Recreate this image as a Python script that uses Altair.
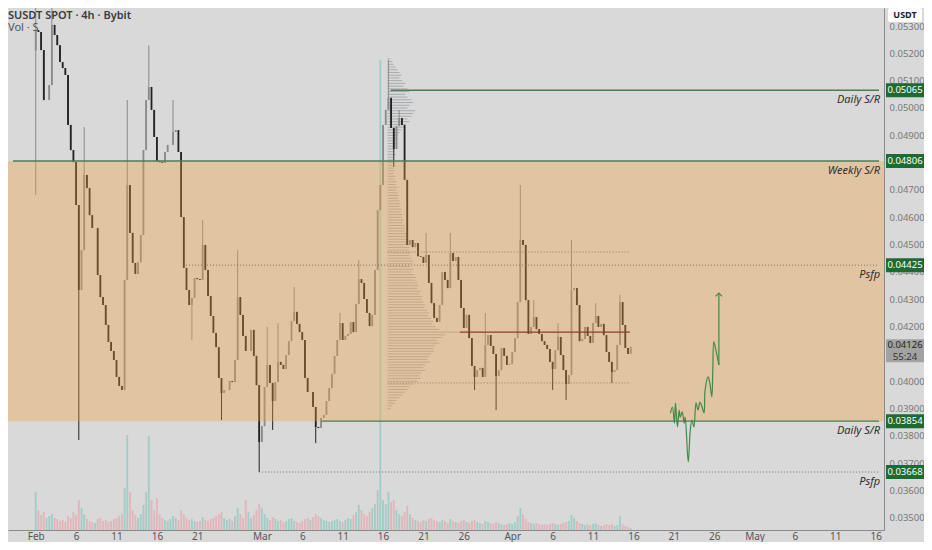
import altair as alt
import pandas as pd

# ---------------- data ----------------
CANDLE_START = "2025-02-01 00:00"
CANDLE_FREQ = "8h"
FIRST_OPEN = 0.05210
CLOSE = [
    0.05285, 0.05278, 0.05212, 0.05029, 0.05029, 0.05084, 0.05304, 0.05267, 0.05230, 0.05168,
    0.05146, 0.05121, 0.04938, 0.04846, 0.04802, 0.04645, 0.04334, 0.04480, 0.04755, 0.04707,
    0.04608, 0.04561, 0.04561, 0.04389, 0.04308, 0.04279, 0.04206, 0.04144, 0.04111, 0.04078,
    0.04016, 0.03983, 0.03968, 0.04371, 0.04718, 0.04543, 0.04433, 0.04393, 0.04436, 0.04535,
    0.04846, 0.05029, 0.05077, 0.04993, 0.04894, 0.04806, 0.04802, 0.04799, 0.04839, 0.04865,
    0.04865, 0.04912, 0.04919, 0.04839, 0.04601, 0.04415, 0.04334, 0.04279, 0.04305, 0.04378,
    0.04374, 0.04371, 0.04499, 0.04407, 0.04312, 0.04239, 0.04177, 0.04125, 0.04012, 0.03957,
    0.03968, 0.03968, 0.04001, 0.03997, 0.04078, 0.04308, 0.04243, 0.04166, 0.04111, 0.04111,
    0.04188, 0.04093, 0.03986, 0.03778, 0.03836, 0.03979, 0.04060, 0.03994, 0.03928, 0.03997,
    0.04071, 0.04060, 0.04045, 0.04096, 0.04147, 0.04221, 0.04254, 0.04210, 0.04180, 0.04151,
    0.04012, 0.03961, 0.03961, 0.03906, 0.03833, 0.03829, 0.03866, 0.03877, 0.03928, 0.03975,
    0.04027, 0.04093, 0.04151, 0.04213, 0.04151, 0.04166, 0.04173, 0.04217, 0.04180, 0.04283,
    0.04374, 0.04360, 0.04301, 0.04250, 0.04202, 0.04243, 0.04407, 0.04627, 0.04718, 0.04938,
    0.04993, 0.05037, 0.04927, 0.04850, 0.04934, 0.04963, 0.04938, 0.04737, 0.04499, 0.04517,
    0.04491, 0.04506, 0.04458, 0.04455, 0.04433, 0.04462, 0.04360, 0.04286, 0.04232, 0.04217,
    0.04279, 0.04400, 0.04371, 0.04341, 0.04469, 0.04440, 0.04455, 0.04371, 0.04268, 0.04195,
    0.04243, 0.04158, 0.04056, 0.04016, 0.04041, 0.04049, 0.04016, 0.04133, 0.04169, 0.04129,
    0.04100, 0.04019, 0.04041, 0.04122, 0.04093, 0.04060, 0.04063, 0.04107, 0.04158, 0.04290,
    0.04517, 0.04499, 0.04297, 0.04173, 0.04199, 0.04235, 0.04191, 0.04173, 0.04147, 0.04133,
    0.04118, 0.04071, 0.04045, 0.04114, 0.04162, 0.04096, 0.04041, 0.03990, 0.04023, 0.04334,
    0.04341, 0.04279, 0.04147, 0.04155, 0.04199, 0.04166, 0.04140, 0.04213, 0.04239, 0.04199,
    0.04210, 0.04169, 0.04107, 0.04071, 0.04034, 0.04041, 0.04133, 0.04290, 0.04206, 0.04122,
    0.04100, 0.04126,
]
HIGH_WICK_IDX = [0, 6, 18, 34, 42, 51, 62, 75, 86, 90, 96, 113, 120, 131, 135, 145, 154,
                 167, 180, 185, 194, 199, 208, 217]
HIGH_WICK_VAL = [0.05410, 0.05390, 0.04930, 0.05029, 0.05230, 0.05029, 0.04590, 0.04480,
                 0.04199, 0.04213, 0.04345, 0.04250, 0.04444, 0.05176, 0.04993, 0.04543,
                 0.04543, 0.04250, 0.04718, 0.04297, 0.04213, 0.04517, 0.04286, 0.04316]
LOW_WICK_IDX = [0, 16, 58, 69, 83, 88, 104, 133, 163, 171, 192, 197, 214]
LOW_WICK_VAL = [0.04682, 0.03785, 0.04151, 0.03858, 0.03668, 0.03822, 0.03774, 0.04784,
                0.03968, 0.03895, 0.03968, 0.03932, 0.03994]
VOLUME_K = [
    380, 200, 150, 180, 120, 140, 160, 120, 110, 90,
    100, 80, 140, 120, 180, 150, 300, 220, 160, 110,
    90, 80, 70, 110, 120, 90, 100, 80, 90, 110,
    120, 140, 160, 420, 950, 380, 200, 150, 120, 160,
    250, 380, 940, 300, 200, 320, 160, 120, 100, 90,
    110, 140, 120, 100, 200, 160, 120, 100, 110, 90,
    80, 90, 130, 100, 90, 110, 120, 140, 160, 180,
    120, 100, 110, 90, 140, 220, 160, 120, 300, 180,
    120, 150, 200, 260, 220, 160, 120, 100, 130, 110,
    90, 100, 80, 90, 110, 120, 90, 80, 70, 90,
    110, 120, 100, 130, 160, 140, 120, 100, 90, 80,
    90, 100, 110, 90, 80, 100, 120, 110, 150, 180,
    250, 200, 160, 140, 180, 220, 260, 400, 4700, 300,
    260, 380, 280, 300, 200, 160, 140, 180, 240, 160,
    120, 100, 90, 80, 100, 90, 110, 120, 100, 90,
    80, 100, 90, 70, 110, 90, 80, 70, 90, 100,
    80, 70, 90, 100, 80, 70, 60, 90, 80, 70,
    60, 80, 70, 60, 50, 60, 70, 60, 80, 140,
    220, 160, 110, 80, 70, 60, 70, 60, 50, 60,
    50, 60, 70, 60, 50, 60, 70, 80, 90, 150,
    120, 90, 70, 60, 50, 60, 50, 60, 70, 50,
    40, 50, 60, 50, 60, 40, 50, 140, 60, 40,
    30, 20,
]

ZONE_LOW = 0.03854
ZONE_HIGH = 0.04806
LEVEL_PRICE = [0.05065, 0.04806, 0.04425, 0.03854, 0.03668]
LEVEL_NAME = ["Daily S/R", "Weekly S/R", "Psfp", "Daily S/R", "Psfp"]
LEVEL_START = ["2025-03-16T22:35:00Z", "2025-01-29T04:26:00Z", "2025-02-19T14:30:00Z",
               "2025-03-08T09:00:00Z", "2025-02-28T16:00:00Z"]
LEVEL_KIND = ["solid", "solid", "dotted", "solid", "dotted"]
LAST_PRICE = 0.04126
COUNTDOWN = "55:24"

VP_START = "2025-03-16T13:40:00Z"
VP_END = "2025-04-15T13:30:00Z"
VP_TOP = 0.0518
VP_STEP = 0.0001
VP_VOLUME = [
    3, 5, 6, 8, 10, 12, 14, 12,
    15, 18, 16, 20, 22, 18, 20, 24, 26, 22, 20,
    28, 26, 24, 20, 22, 18, 16, 14, 12, 10,
    10, 8, 8, 6, 7, 6, 8, 6, 5, 6,
    5, 6, 7, 6, 8, 7, 9, 8, 10, 9,
    10, 11, 10, 12, 13, 12, 14, 13, 15, 14,
    16, 15, 17, 18, 17, 19, 18, 20, 19, 21,
    22, 21, 23, 22, 24, 26, 25, 23, 26, 24,
    27, 29, 28, 30, 31, 30, 33, 32, 35, 34,
    36, 38, 37, 40, 42, 41, 44, 46, 45, 48,
    52, 73, 58, 55, 50, 52, 48, 46, 47, 44,
    42, 40, 43, 38, 36, 38, 34, 32, 33, 30,
    26, 22, 20, 17, 15, 12, 9, 7, 5, 3,
]
VP_VAH = 0.04473
VP_VAL = 0.03994
VP_POC = 0.0418

PATH_TIME = ["2025-04-20T14:00:00Z", "2025-04-20T20:00:00Z", "2025-04-21T02:00:00Z",
             "2025-04-21T05:00:00Z", "2025-04-21T11:00:00Z", "2025-04-21T16:00:00Z",
             "2025-04-21T19:00:00Z", "2025-04-22T01:00:00Z", "2025-04-22T07:00:00Z",
             "2025-04-22T10:00:00Z", "2025-04-22T19:00:00Z", "2025-04-23T01:00:00Z",
             "2025-04-23T06:00:00Z", "2025-04-23T12:00:00Z", "2025-04-23T18:00:00Z",
             "2025-04-24T00:00:00Z", "2025-04-24T06:00:00Z", "2025-04-24T12:00:00Z",
             "2025-04-24T18:00:00Z", "2025-04-24T21:00:00Z", "2025-04-25T06:00:00Z",
             "2025-04-25T11:00:00Z", "2025-04-25T17:00:00Z", "2025-04-25T20:00:00Z",
             "2025-04-25T23:00:00Z", "2025-04-26T05:00:00Z", "2025-04-26T14:00:00Z"]
PATH_PRICE = [0.03884, 0.03906, 0.03847, 0.03921, 0.03833, 0.03895, 0.03869, 0.03888,
              0.03847, 0.03869, 0.03705, 0.03822, 0.03858, 0.03833, 0.03921, 0.03895,
              0.03924, 0.03906, 0.03884, 0.03968, 0.04016, 0.03994, 0.03943, 0.04041,
              0.04144, 0.04115, 0.04060]
ARROW_TIME = "2025-04-26T14:00:00Z"
ARROW_TOP = 0.04323

X_TICK_DAYS = [(2, 1), (2, 6), (2, 11), (2, 16), (2, 21), (3, 1), (3, 6), (3, 11), (3, 16),
               (3, 21), (3, 26), (4, 1), (4, 6), (4, 11), (4, 16), (4, 21), (4, 26),
               (5, 1), (5, 6), (5, 11), (5, 16)]
Y_TICKS = [0.035, 0.036, 0.037, 0.038, 0.039, 0.040, 0.041, 0.042, 0.043, 0.044,
           0.045, 0.046, 0.047, 0.048, 0.049, 0.050, 0.051, 0.052, 0.053]
X_DOMAIN_END = "2025-05-16T09:50:00Z"
Y_DOMAIN = [0.034559, 0.053659]

# ---------------- layout / styles ----------------
W, H = 876, 522
BG = "#d9d9d9"
GREEN_LINE = "#4d7c53"
TAG_GREEN = "#1f6a31"
FONT = "Noto Sans"
TAG_X = 897
TAG_W = 38

# ---------------- tables ----------------
times = pd.date_range(CANDLE_START, periods=len(CLOSE), freq=CANDLE_FREQ).strftime("%Y-%m-%dT%H:%M:%SZ")
opens = [FIRST_OPEN] + CLOSE[:-1]
highs = [max(o, c) for o, c in zip(opens, CLOSE)]
lows = [min(o, c) for o, c in zip(opens, CLOSE)]
for i, v in zip(HIGH_WICK_IDX, HIGH_WICK_VAL):
    highs[i] = max(highs[i], v)
for i, v in zip(LOW_WICK_IDX, LOW_WICK_VAL):
    lows[i] = min(lows[i], v)
candles = pd.DataFrame({"t": list(times), "open": opens, "close": CLOSE,
                        "high": highs, "low": lows, "vol": VOLUME_K})

levels = pd.DataFrame({"start": LEVEL_START, "end": [X_DOMAIN_END] * len(LEVEL_PRICE),
                       "price": LEVEL_PRICE, "name": LEVEL_NAME, "kind": LEVEL_KIND,
                       "label": [f"{p:.5f}" for p in LEVEL_PRICE]})
solid_lv = levels[levels.kind == "solid"]
dotted_lv = levels[levels.kind == "dotted"]

vp_prices = [round(VP_TOP - VP_STEP * k, 4) for k in range(len(VP_VOLUME))]
vp_start = pd.Timestamp(VP_START)
VP_UNIT_HOURS = 2.94
vp = pd.DataFrame({
    "price": vp_prices,
    "start": [VP_START] * len(VP_VOLUME),
    "end": [(vp_start + pd.to_timedelta(v * VP_UNIT_HOURS, unit="h")).strftime("%Y-%m-%dT%H:%M:%SZ")
            for v in VP_VOLUME],
})
poc_end = vp.loc[vp.price == VP_POC, "end"].iloc[0]
va = pd.DataFrame({"start": [VP_START, VP_START], "end": [VP_END, VP_END], "price": [VP_VAH, VP_VAL]})
poc = pd.DataFrame({"start": [poc_end], "end": [VP_END], "price": [VP_POC]})
path = pd.DataFrame({"t": PATH_TIME, "price": PATH_PRICE, "order": list(range(len(PATH_TIME)))})
arrow = pd.DataFrame({"t": [ARROW_TIME], "p0": [PATH_PRICE[-1]], "p1": [ARROW_TOP]})
zone = pd.DataFrame({"lo": [ZONE_LOW], "hi": [ZONE_HIGH]})
last = pd.DataFrame({"price": [LAST_PRICE], "label": [f"{LAST_PRICE:.5f}"], "cd": [COUNTDOWN]})
one = pd.DataFrame({"a": [0]})

# ---------------- scales / axes ----------------
x_scale = alt.Scale(type="utc", domain=[alt.DateTime(year=2025, month=1, date=29, hours=4, minutes=26, utc=True),
                                        alt.DateTime(year=2025, month=5, date=16, hours=9, minutes=50, utc=True)])
x_axis = alt.Axis(
    title=None, orient="bottom", grid=False, ticks=False, labelPadding=1,
    values=[alt.DateTime(year=2025, month=m, date=d, utc=True) for m, d in X_TICK_DAYS],
    labelExpr="utcdate(datum.value) == 1 ? utcFormat(datum.value, '%b') : utcFormat(datum.value, '%-d')",
    labelFontSize=10, labelColor="#555555", labelFont=FONT, labelOverlap=False, labelFlush=False,
    labelBaseline="top", domainColor="#8a8a8a", domainWidth=1,
)
y_scale = alt.Scale(domain=Y_DOMAIN, nice=False, zero=False)
y_axis = alt.Axis(
    title=None, orient="right", grid=False, ticks=False, labelPadding=5, values=Y_TICKS,
    format=".5f", labelFontSize=9.5, labelColor="#777777", labelFont=FONT, labelOverlap=False,
    labelBound=False, domainColor="#8a8a8a", domainWidth=1,
)

def X(f):
    return alt.X(f, type="temporal", scale=x_scale, axis=x_axis)

def X2(f):
    return alt.X2(f)

def Y(f, axis=None):
    return alt.Y(f, type="quantitative", scale=y_scale, axis=axis)

up = "datum.close >= datum.open"

volume = alt.Chart(candles).mark_bar(size=1.8, opacity=0.5, clip=True).encode(
    x=X("t"),
    y=alt.Y("vol:Q", scale=alt.Scale(domain=[0, 5220], nice=False), axis=None),
    color=alt.condition(up, alt.value("#6cc2b3"), alt.value("#ee8f9c")),
)

vp_rows = alt.Chart(vp).mark_rule(strokeWidth=1, opacity=0.45, color="#6c7378").encode(
    x=X("start"), x2=X2("end"), y=Y("price"))

wicks = alt.Chart(candles).mark_rule(strokeWidth=1, clip=True).encode(
    x=X("t"), y=Y("low", axis=y_axis), y2=alt.Y2("high"),
    color=alt.condition(up, alt.value("#8a8a8a"), alt.value("#222222")),
)
bodies = alt.Chart(candles).mark_bar(size=1.8, clip=True).encode(
    x=X("t"), y=Y("open"), y2=alt.Y2("close"),
    color=alt.condition(up, alt.value("#8a8a8a"), alt.value("#222222")),
)

band = alt.Chart(zone).mark_rect(color="#f0a040", opacity=0.35).encode(
    x=alt.value(0), x2=alt.value(W), y=Y("lo"), y2=alt.Y2("hi"))

solid_lines = alt.Chart(solid_lv).mark_rule(color=GREEN_LINE, strokeWidth=1.3).encode(
    x=X("start"), x2=X2("end"), y=Y("price"))
dotted_lines = alt.Chart(dotted_lv).mark_rule(color="#7c7262", strokeWidth=1, strokeDash=[1, 2]).encode(
    x=X("start"), x2=X2("end"), y=Y("price"))
va_lines = alt.Chart(va).mark_rule(color="#8a7a66", strokeWidth=1, strokeDash=[1, 2]).encode(
    x=X("start"), x2=X2("end"), y=Y("price"))
poc_line = alt.Chart(poc).mark_rule(color="#8c3b2b", strokeWidth=1.2).encode(
    x=X("start"), x2=X2("end"), y=Y("price"))

proj = alt.Chart(path).mark_line(color="#3f8a49", strokeWidth=1.2, interpolate="catmull-rom").encode(
    x=X("t"), y=Y("price"), order="order:Q")
shaft = alt.Chart(arrow).mark_rule(color="#3f8a49", strokeWidth=1.2).encode(
    x=X("t"), y=Y("p0"), y2=alt.Y2("p1"))
head = alt.Chart(arrow).mark_point(shape="M-1,1L0,0L1,1", filled=False, size=45,
                                   color="#3f8a49", strokeWidth=1.2, opacity=1).encode(
    x=X("t"), y=Y("p1"))

level_text = alt.Chart(levels).mark_text(align="right", baseline="top", dy=4, fontSize=11,
                                         fontStyle="italic", color="#2e2e2e", font=FONT).encode(
    x=alt.value(W - 4), y=Y("price"), text="name:N")

tags = alt.Chart(levels).mark_tick(orient="horizontal", thickness=14, size=TAG_W, color=TAG_GREEN,
                                   opacity=1).encode(x=alt.value(TAG_X), y=Y("price"))
tag_text = alt.Chart(levels).mark_text(fontSize=9.5, color="white", font=FONT, align="center",
                                       baseline="middle").encode(
    x=alt.value(TAG_X), y=Y("price"), text="label:N")

last_tag = alt.Chart(last).mark_tick(orient="horizontal", thickness=23, size=TAG_W, color="#a2a2a2",
                                     yOffset=4, opacity=1).encode(x=alt.value(TAG_X), y=Y("price"))
last_text = alt.Chart(last).mark_text(fontSize=9.5, color="#1e1e1e", font=FONT, align="center",
                                      baseline="middle", dy=-2).encode(
    x=alt.value(TAG_X), y=Y("price"), text="label:N")
last_cd = alt.Chart(last).mark_text(fontSize=9.5, color="#333333", font=FONT, align="center",
                                    baseline="middle", dy=10).encode(
    x=alt.value(TAG_X), y=Y("price"), text="cd:N")

usdt_box = alt.Chart(one).mark_rect(color="white", cornerRadius=2).encode(
    x=alt.value(880), x2=alt.value(914), y=alt.value(0), y2=alt.value(14))
usdt_text = alt.Chart(one).mark_text(text="USDT", fontSize=9, fontWeight="bold", color="#222222",
                                     font=FONT, baseline="middle").encode(x=alt.value(TAG_X), y=alt.value(7))

title1 = alt.Chart(one).mark_text(text="SUSDT SPOT · 4h · Bybit", align="left", baseline="middle",
                                  fontSize=11, fontWeight=600, color="#3a3a3a", font=FONT).encode(
    x=alt.value(0), y=alt.value(8))
title2 = alt.Chart(one).mark_text(text="Vol · S", align="left", baseline="middle",
                                  fontSize=11, color="#555555", font=FONT).encode(
    x=alt.value(0), y=alt.value(20))

chart = alt.layer(
    volume, vp_rows, wicks, bodies, band,
    solid_lines, dotted_lines, va_lines, poc_line,
    proj, shaft, head, level_text,
    tags, tag_text, last_tag, last_text, last_cd,
    usdt_box, usdt_text, title1, title2,
).resolve_scale(y="independent").properties(
    width=W, height=H,
    autosize=alt.AutoSizeParams(type="none"),
    padding={"left": 0, "top": 0, "right": 40, "bottom": 12},
    background=BG,
).configure_view(stroke=None, fill=BG)

chart.save("out.html", embed_options={"renderer": "svg", "actions": False})
